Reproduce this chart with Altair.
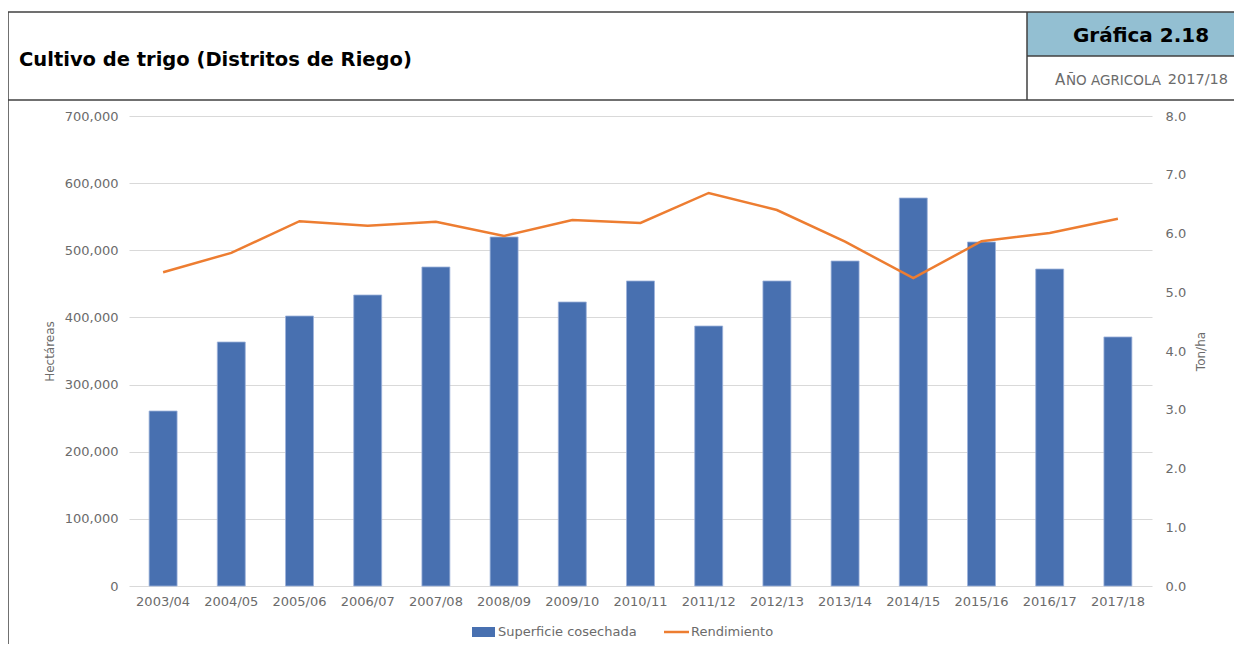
import altair as alt
import pandas as pd

periodos = ["2003/04", "2004/05", "2005/06", "2006/07", "2007/08", "2008/09", "2009/10",
            "2010/11", "2011/12", "2012/13", "2013/14", "2014/15", "2015/16", "2016/17", "2017/18"]
superficie = [260600, 363400, 402100, 433400, 475100, 519800, 423000,
              454300, 387200, 454300, 484000, 577900, 512300, 472100, 370900]
rendimiento = [5.34, 5.67, 6.21, 6.13, 6.20, 5.96, 6.23,
               6.18, 6.69, 6.40, 5.86, 5.24, 5.87, 6.01, 6.25]

df = pd.DataFrame({"Periodo": periodos, "Superficie": superficie, "Rendimiento": rendimiento})
one = pd.DataFrame({"a": [0]})

FONT = "DejaVu Sans"
GRAY = "#6b6b6b"
BLUE = "#4870b0"
ORANGE = "#ED7D31"
DARK = "#404040"

xenc = alt.X("Periodo:N", sort=periodos, title=None,
             scale=alt.Scale(paddingInner=0.59, paddingOuter=0.295),
             axis=alt.Axis(labelAngle=0, labelFontSize=13, labelColor=GRAY, labelFont=FONT,
                           ticks=False, domain=False, labelPadding=9))

bars = alt.Chart(df).mark_bar(color=BLUE, stroke="#9db3da", strokeWidth=0.8).encode(
    x=xenc,
    y=alt.Y("Superficie:Q", title="Hectáreas",
            scale=alt.Scale(domain=[0, 700000]),
            axis=alt.Axis(values=[0, 100000, 200000, 300000, 400000, 500000, 600000, 700000],
                          format=",.0f", labelFontSize=13, labelColor=GRAY, labelFont=FONT,
                          ticks=False, domain=False, labelPadding=11, gridColor="#d9d9d9",
                          titleFont=FONT, titleFontSize=12, titleColor=GRAY,
                          titleFontWeight="normal", titlePadding=8))
)

line = alt.Chart(df).mark_line(color=ORANGE, strokeWidth=2.5).encode(
    x=alt.X("Periodo:N", sort=periodos),
    y=alt.Y("Rendimiento:Q", title="Ton/ha",
            scale=alt.Scale(domain=[0, 8]),
            axis=alt.Axis(orient="right", values=[0, 1, 2, 3, 4, 5, 6, 7, 8], format=".1f",
                          labelFontSize=13, labelColor=GRAY, labelFont=FONT, grid=False,
                          ticks=False, domain=False, labelPadding=13,
                          titleFont=FONT, titleFontSize=12, titleColor=GRAY, titleAngle=-90,
                          titleFontWeight="normal", titlePadding=22))
)

def rule(x1, x2, y1, y2, color=DARK, w=1.5):
    return alt.Chart(one).mark_rule(color=color, strokeWidth=w).encode(
        x=alt.value(x1), x2=alt.value(x2), y=alt.value(y1), y2=alt.value(y2))

def text(t, x, y, size, color="black", weight="normal", align="left", font=FONT):
    return alt.Chart(one).mark_text(align=align, baseline="middle", fontSize=size, color=color,
                                    fontWeight=weight, font=font).encode(
        x=alt.value(x), y=alt.value(y), text=alt.value(t))

box = alt.Chart(one).mark_rect(color="#93bfd2").encode(
    x=alt.value(898), x2=alt.value(1110), y=alt.value(-104), y2=alt.value(-60))

decor = [
    box,
    rule(-121, -121, -104, 545),
    rule(-121, 1110, -104, -104),
    rule(-121, 1110, -16, -16),
    rule(898, 898, -104, -16),
    rule(898, 1110, -60, -60),
    text("Cultivo de trigo (Distritos de Riego)", -110, -56, 19.5, weight="bold"),
    text("Gráfica 2.18", 1012, -80, 20, weight="bold", align="center"),
    text("A", 926, -36, 15, color=GRAY),
    text("ÑO AGRICOLA", 937, -35, 13.5, color=GRAY),
    text("2017/18", 1099, -36, 14.5, color=GRAY, align="right"),
    alt.Chart(one).mark_rect(color=BLUE).encode(
        x=alt.value(343), x2=alt.value(366), y=alt.value(511), y2=alt.value(521)),
    text("Superficie cosechada", 369, 516, 13, color=GRAY),
    rule(535, 560, 516, 516, color=ORANGE, w=2.5),
    text("Rendimiento", 562, 516, 13, color=GRAY),
]

chart = alt.layer(bars, line, *decor).resolve_scale(y="independent").properties(
    width=1023, height=470,
    autosize=alt.AutoSizeParams(type="none"),
    padding={"left": 121, "top": 108, "right": 82, "bottom": 58},
).configure_view(stroke=None)

chart.save("out.html", embed_options={"renderer": "svg", "actions": False})
